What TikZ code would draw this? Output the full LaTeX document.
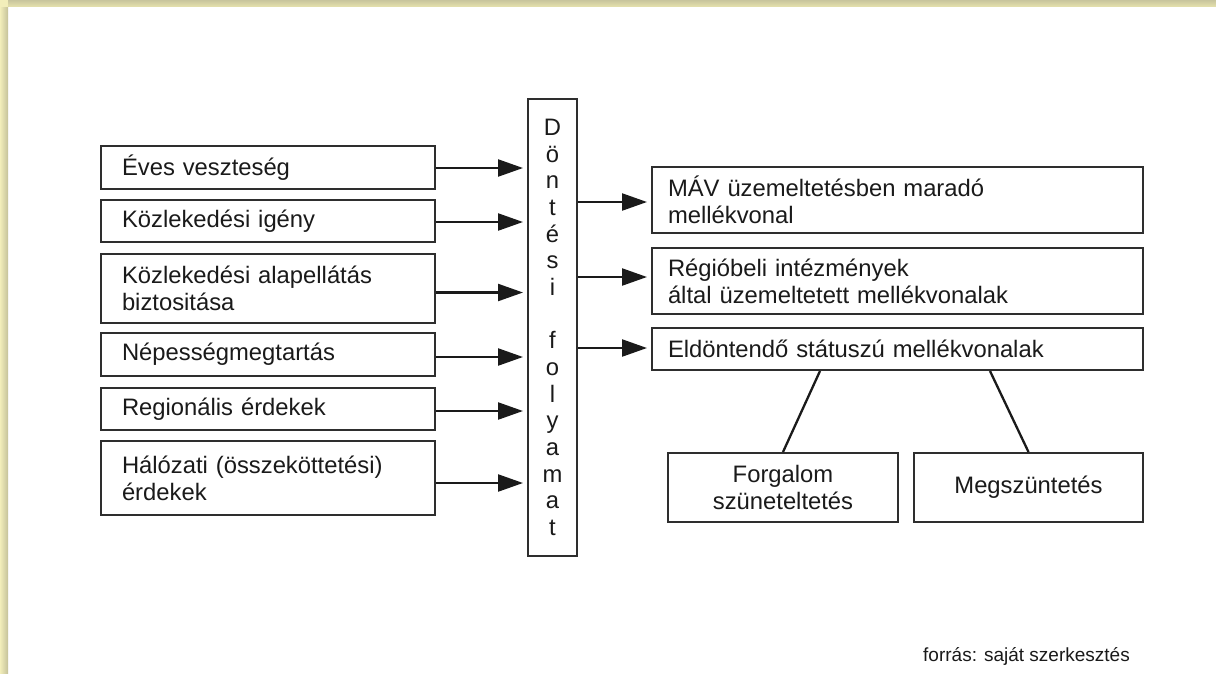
\documentclass[tikz,border=0pt]{standalone}
\usepackage{fontspec}
\setmainfont{Liberation Sans}
\usetikzlibrary{arrows.meta,calc}
\definecolor{ink}{HTML}{1A1A1A}
\definecolor{frameline}{HTML}{2E2E2E}
\definecolor{bandtop}{RGB}{228,224,172}
\definecolor{bandleft}{RGB}{242,238,186}
\tikzset{
  lbox/.style={draw=frameline, line width=2pt, text=ink, inner xsep=21pt, inner ysep=0pt,
    text width=292pt, align=left, minimum height=#1,
    font=\fontsize{23.8}{26.8}\selectfont},
  rbox/.style={draw=frameline, line width=2pt, text=ink, inner xsep=16pt, inner ysep=0pt,
    text width=459pt, align=left, minimum height=#1,
    font=\fontsize{23.8}{26.8}\selectfont},
  bbox/.style={draw=frameline, line width=2pt, text=ink, inner sep=0pt, align=center,
    minimum width=#1, minimum height=69pt, font=\fontsize{23.8}{26.8}\selectfont},
  flow/.style={line width=2.3pt, draw=ink, -{Triangle[length=25pt,width=17pt]}, shorten >=4pt},
  tie/.style={line width=2.3pt, draw=ink},
}
\begin{document}
\begin{tikzpicture}[x=1pt,y=1pt]
\useasboundingbox (0,0) rectangle (1216,-673);
\fill[white] (0,0) rectangle (1216,-673);
% pale frame along the top and left edges
\shade[top color=bandtop!85!black!90, bottom color=bandtop] (0,0) rectangle (1216,-6.5);
\shade[left color=bandleft, right color=bandleft!80!black!95] (0,-6.5) rectangle (8,-673);
\fill[bandleft] (0,0) rectangle (8,-6.5);

% decision process column
\node[draw=frameline, line width=2pt, text=ink, minimum width=49pt, minimum height=457pt,
  inner sep=0pt, align=center, font=\fontsize{23.8}{26.67}\selectfont]
  (dv) at (552.5,-327.5)
  {D\\ö\\n\\t\\é\\s\\i\\\mbox{}\\f\\o\\l\\y\\a\\m\\a\\t};

% inputs
\node[lbox=43pt] (l1) at (268,-167.5) {Éves veszteség};
\node[lbox=42pt] (l2) at (268,-221) {Közlekedési igény};
\node[lbox=69pt] (l3) at (268,-288.5) {Közlekedési alapellátás\\biztositása};
\node[lbox=43pt] (l4) at (268,-354.5) {Népességmegtartás};
\node[lbox=42pt] (l5) at (268,-409) {Regionális érdekek};
\node[lbox=74pt] (l6) at (268,-478) {Hálózati (összeköttetési)\\érdekek};

% outcomes
\node[rbox=66pt] (r1) at (897.5,-200) {MÁV üzemeltetésben maradó\\mellékvonal};
\node[rbox=66pt] (r2) at (897.5,-281) {Régióbeli intézmények\\által üzemeltetett mellékvonalak};
\node[rbox=42pt] (r3) at (897.5,-349) {Eldöntendő státuszú mellékvonalak};

\node[bbox=230pt] (b1) at (783,-487.5) {Forgalom\\szüneteltetés};
\node[bbox=229pt] (b2) at (1028.5,-487.5) {Megszüntetés};

% arrows into the process
\foreach \n/\dy in {l1/0.5,l2/1,l3/4,l4/2.5,l5/2,l6/5}
  \draw[flow] ($(\n.east)+(0,-\dy)$) -- ($(\n.east -| dv.west)+(0,-\dy)$);

% arrows out of the process
\foreach \n/\dy in {r1/2,r2/-4,r3/-1}
  \draw[flow] ($(\n.west -| dv.east)+(0,-\dy)$) -- ($(\n.west)+(0,-\dy)$);

% branches of the undecided lines
\draw[tie] ($(r3.south)+(-77.5,0)$) -- (b1.north);
\draw[tie] ($(r3.south)+(92.5,0)$) -- (b2.north);

\node[text=ink, anchor=base east, inner sep=0pt, font=\fontsize{19}{22}\selectfont] (src)
  at (1130,-661) {forrás: saját szerkesztés};
\end{tikzpicture}
\end{document}
